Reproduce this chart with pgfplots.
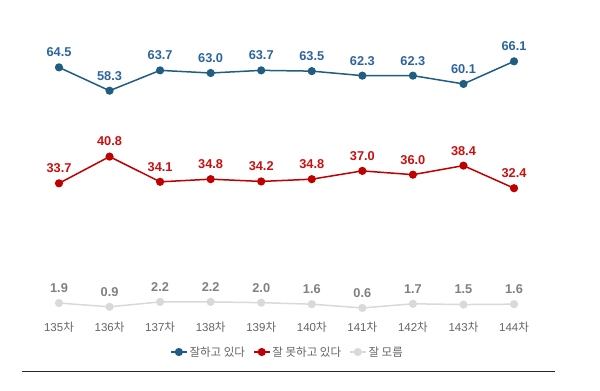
\documentclass[border=0pt]{standalone}
\usepackage{fontspec}
\setmainfont{Liberation Sans}
\newfontfamily\cjk{Noto Sans CJK KR}
\usepackage{pgfplots}
\pgfplotsset{compat=1.18}
\definecolor{cblue}{RGB}{31,94,130}
\definecolor{cbluet}{RGB}{46,100,158}
\definecolor{cred}{RGB}{192,0,0}
\definecolor{credt}{RGB}{200,16,16}
\definecolor{cgray}{RGB}{217,217,217}
\definecolor{cgrayt}{RGB}{128,128,128}
\definecolor{ctick}{RGB}{100,100,100}
\begin{document}
\begin{tikzpicture}
\useasboundingbox (-33.7pt,-80.8pt) rectangle (566.3pt,310.2pt);
\begin{axis}[
  at={(0pt,0pt)}, anchor=south west,
  scale only axis, width=505.6pt, height=301.2pt,
  xmin=-0.5, xmax=9.5, ymin=0, ymax=80,
  hide y axis,
  axis x line*=bottom,
  x axis line style={draw=none},
  xtick={0,...,9},
  xticklabels={135{\cjk 차},136{\cjk 차},137{\cjk 차},138{\cjk 차},139{\cjk 차},140{\cjk 차},141{\cjk 차},142{\cjk 차},143{\cjk 차},144{\cjk 차}},
  major tick length=0pt,
  xticklabel style={font=\fontsize{11.5}{13}\selectfont, text=ctick, anchor=center, yshift=-17pt},
  clip=false,
  nodes near coords={\pgfmathprintnumber[fixed,fixed zerofill,precision=1,assume math mode=true]{\pgfplotspointmeta}},
  nodes near coords style={font=\bfseries\fontsize{12.8}{14}\selectfont, anchor=center, yshift=15pt},
  legend style={at={(0.502,-0.1388)}, anchor=center, draw=none, fill=none,
    font=\cjk\fontsize{11.5}{13}\selectfont, text=ctick,
    /tikz/every even column/.append style={column sep=6pt},
    inner sep=0pt},
  legend columns=-1,
  legend cell align=left,
  legend image code/.code={\draw[mark repeat=2,mark phase=2] plot coordinates {(0cm,0cm) (0.28cm,0cm) (0.56cm,0cm)};},
]
\addplot[color=cblue, line width=1.5pt, mark=*, mark size=3.3pt, every node near coord/.append style={text=cbluet}]
  coordinates {(0,64.5) (1,58.3) (2,63.7) (3,63.0) (4,63.7) (5,63.5) (6,62.3) (7,62.3) (8,60.1) (9,66.1)};
\addlegendentry{잘하고 있다}
\addplot[color=cred, line width=1.5pt, mark=*, mark size=3.3pt, every node near coord/.append style={text=credt}]
  coordinates {(0,33.7) (1,40.8) (2,34.1) (3,34.8) (4,34.2) (5,34.8) (6,37.0) (7,36.0) (8,38.4) (9,32.4)};
\addlegendentry{잘 못하고 있다}
\addplot[color=cgray, line width=1.5pt, mark=*, mark size=3.3pt, every node near coord/.append style={text=cgrayt}]
  coordinates {(0,1.9) (1,0.9) (2,2.2) (3,2.2) (4,2.0) (5,1.6) (6,0.6) (7,1.7) (8,1.5) (9,1.6)};
\addlegendentry{잘 모름}
\end{axis}
\draw[line width=1pt, black!85] (-11.7pt,-60.8pt) -- (521.3pt,-60.8pt);
\end{tikzpicture}
\end{document}
